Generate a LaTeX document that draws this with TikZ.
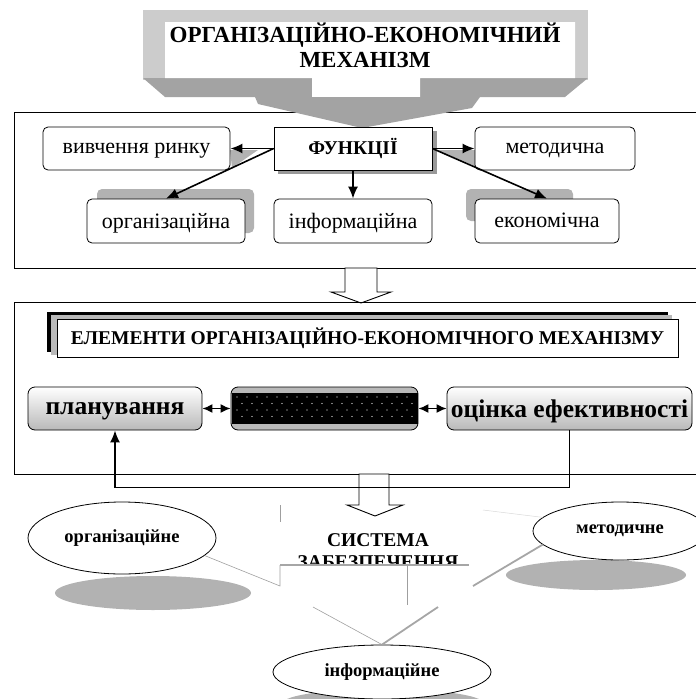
\documentclass[tikz,border=0pt]{standalone}
\usepackage{fontspec}
\setmainfont{Liberation Serif}
\usetikzlibrary{arrows.meta,shapes.geometric,positioning}

\tikzset{
  fnbox/.style={draw, rounded corners=5pt, fill=white, minimum height=43pt, line width=0.8pt,
    text depth=1pt, font=\fontsize{22}{24}\selectfont},
  headbox/.style={draw, fill=white, line width=0.8pt, font=\bfseries\fontsize{19.5}{22}\selectfont},
  elbox/.style={draw, rounded corners=7pt, top color=white, bottom color=gray!55, minimum height=43pt,
    inner sep=1pt, text depth=0pt, line width=0.8pt, font=\bfseries\fontsize{25.5}{28}\selectfont},
  suppnode/.style={draw, ellipse, fill=white, inner sep=0pt, line width=0.8pt,
    font=\bfseries\fontsize{18.5}{21}\selectfont},
  shadowfill/.style={fill=gray!60},
  bannerfold/.style={fill=gray!72},
  arr/.style={-{Latex[length=12pt,width=10pt]}, line width=1.6pt},
  darr/.style={{Latex[length=10pt,width=9pt]}-{Latex[length=10pt,width=9pt]}, line width=1.6pt},
  hollow/.style={draw, fill=white, line width=0.9pt, line join=miter},
  gthin/.style={gray!75, line width=0.6pt},
  gthick/.style={gray!70, line width=1.8pt}
}

\begin{document}
\begin{tikzpicture}[x=1pt,y=-1pt]
  \useasboundingbox (0,0) rectangle (696,699);

  % banner
  \fill[gray!40] (143,10) rectangle (588,80);
  \fill[bannerfold] (143,78) -- (312,78) -- (312,97) -- (165,97) -- cycle;
  \fill[bannerfold] (420,78) -- (588,78) -- (565,97) -- (420,97) -- cycle;
  \fill[white] (165,22) -- (575,22) -- (575,78) -- (420,78) -- (420,97) -- (312,97) -- (312,78) -- (165,78) -- cycle;
  \node[align=center, font=\bfseries\fontsize{23}{25}\selectfont] (title) at (365,45)
    {ОРГАНІЗАЦІЙНО-ЕКОНОМІЧНИЙ\\МЕХАНІЗМ};

  % functions
  \draw[line width=1pt] (14,112) rectangle (705,268);
  \fill[bannerfold] (255,97) -- (480,97) -- (472,108) -- (362,128) -- (258,104) -- cycle;
  \fill[gray!80] (278,131) rectangle (437,174);
  \fill[shadowfill] (230,150) -- (258,150) -- (232,168) -- cycle;
  \fill[shadowfill] (437,150) -- (475,150) -- (475,166) -- cycle;
  \fill[shadowfill, rounded corners=5pt] (97,189) rectangle (254,233);
  \fill[shadowfill, rounded corners=5pt] (466,189) rectangle (573,221);
  \node[headbox, minimum width=158pt, minimum height=43pt] (func) at (353,148.5) {ФУНКЦІЇ};
  \node[fnbox, minimum width=187pt] (market) at (136.5,148.5) {вивчення ринку};
  \node[fnbox, minimum width=160pt] (method) at (555,148.5) {методична};
  \node[fnbox, minimum width=158pt, minimum height=44pt] (org) at (166,221) {організаційна};
  \node[fnbox, minimum width=158pt, minimum height=44pt] (info) at (353,221) {інформаційна};
  \node[fnbox, minimum width=144pt, minimum height=44pt] (econ) at (547,221) {економічна};
  \draw[arr] (func.west) -- (market.east);
  \draw[arr] (func.west) -- (org.north);
  \draw[arr] (func.south) -- (info.north);
  \draw[arr] (func.east) -- (method.west);
  \draw[arr] (func.east) -- (econ.north);

  \draw[hollow] (345,268) -- (377,268) -- (377,292) -- (391,292) -- (361,303) -- (331,292) -- (345,292) -- cycle;

  % elements
  \draw[line width=1pt] (14,302) rectangle (705,474);
  \fill[black] (47,312) rectangle (668,352);
  \fill[gray!55] (51,315) rectangle (672,355);
  \node[headbox, minimum width=621pt, minimum height=38pt] (elem) at (367.5,338)
    {ЕЛЕМЕНТИ ОРГАНІЗАЦІЙНО-ЕКОНОМІЧНОГО МЕХАНІЗМУ};
  \node[elbox, minimum width=174pt] (plan) at (115,408.5) {планування};
  \node[draw, rounded corners=7pt, fill=gray!55, minimum width=187pt, minimum height=43pt, line width=0.8pt] (core) at (324.5,408.5) {};
  \fill[black] (231.5,393) rectangle (417.5,424);
  \foreach \r in {0,1,2,3}
    \foreach \c in {0,1,...,17}
      \fill[white] ({237+\c*10+mod(\r,2)*5},{397+\r*6.5}) circle (0.6pt);
  \node[elbox, minimum width=245pt] (eval) at (569.5,408.5) {оцінка ефективності};
  \draw[darr] (plan.east) -- (core.west);
  \draw[darr] (core.east) -- (eval.west);

  \draw[hollow] (359,474) -- (389,474) -- (389,505) -- (403,505) -- (375,516) -- (347,505) -- (359,505) -- cycle;
  \draw[arr] (eval.south) -- ++(0,57) -| (plan.south);

  % support system
  \fill[shadowfill] (153,593) ellipse (98 and 17);
  \fill[shadowfill] (596,575) ellipse (90 and 15);
  \fill[shadowfill] (383,703) ellipse (100 and 14);
  \node[suppnode, minimum width=188pt, minimum height=72pt] (orgs) at (122,538) {організаційне};
  \node[suppnode, minimum width=174pt, minimum height=58pt] (meths) at (620,531) {методичне};
  \node[suppnode, minimum width=218pt, minimum height=54pt] (infos) at (382,672) {інформаційне};
  \coordinate (sa) at (280,586);
  \coordinate (sb) at (280,565);
  \coordinate (sc) at (469,565);
  \coordinate (sd) at (407,605);
  \coordinate (se) at (313,607);
  \coordinate (sf) at (438,607);
  \coordinate (sg) at (473,586);
  \begin{scope}
    \clip (250,520) rectangle (480,565);
    \node[align=center, font=\bfseries\fontsize{19.5}{22}\selectfont] (sys) at (378,551) {СИСТЕМА\\ЗАБЕЗПЕЧЕННЯ};
  \end{scope}
  \draw[gthin] (orgs.-12) -- (sa) -- (sb);
  \draw[gthin] (280,505) -- (280,522);
  \draw[gray!70, line width=1.2pt] (sb) -- (sc);
  \draw[gthin] (sb -| sd) -- (sd);
  \draw[gthin] (se) -- (infos.north);
  \draw[gthick] (infos.north) -- (sf);
  \draw[gthick] (sg) -- (meths.190);
  \draw[gray!30, line width=0.5pt] (483,510) -- (meths.170);
\end{tikzpicture}
\end{document}
